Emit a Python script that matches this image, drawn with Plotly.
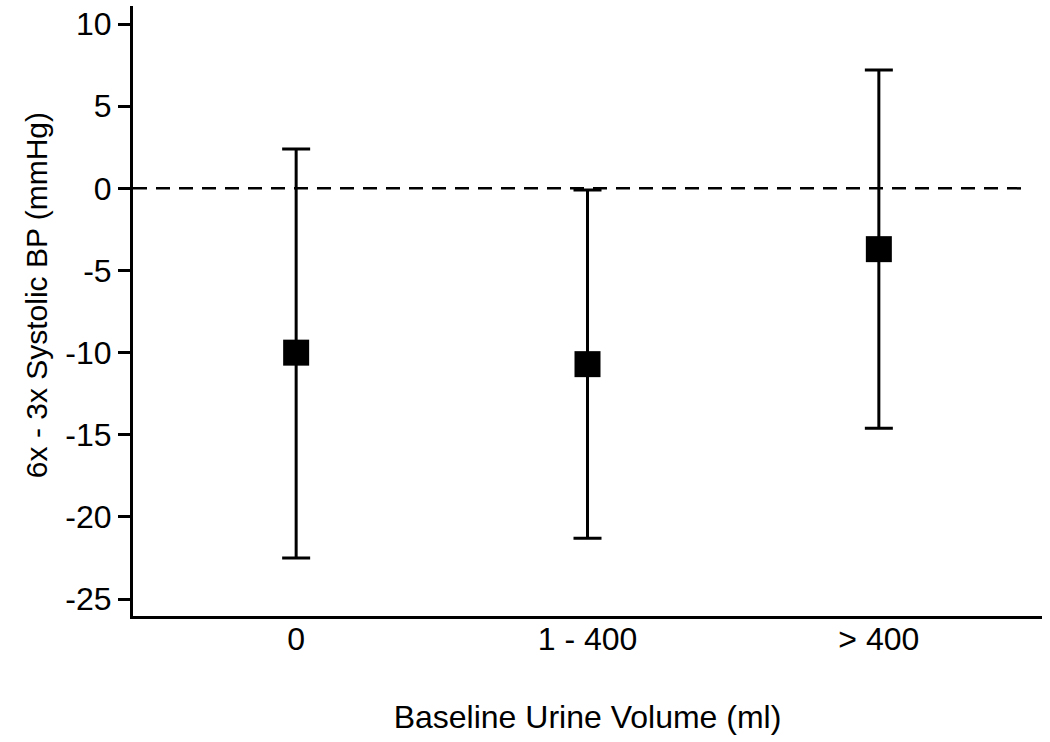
import plotly.graph_objects as go

categories = ["0", "1 - 400", "> 400"]
means = [-10.0, -10.7, -3.7]
upper = [2.4, -0.1, 7.2]
lower = [-22.5, -21.3, -14.6]
y_ticks = [10, 5, 0, -5, -10, -15, -20, -25]

xpos = list(range(len(categories)))
err_plus = [u - m for u, m in zip(upper, means)]
err_minus = [m - l for m, l in zip(means, lower)]

fig = go.Figure()
fig.add_trace(go.Scatter(
    x=xpos, y=means, mode="markers",
    marker=dict(symbol="square", size=26, color="black"),
    error_y=dict(type="data", symmetric=False, array=err_plus, arrayminus=err_minus,
                 color="black", thickness=3, width=14),
    showlegend=False,
))
fig.add_shape(type="line", xref="paper", yref="y", x0=0, x1=0.985, y0=0, y1=0,
              line=dict(color="black", width=2.5, dash="14px,9px"), layer="below")

font = "Liberation Sans, Arial, sans-serif"
fig.update_layout(
    width=1050, height=742,
    margin=dict(l=133, r=8, t=6, b=126),
    plot_bgcolor="white", paper_bgcolor="white",
    font=dict(family=font, color="black", size=32),
    xaxis=dict(
        range=[-0.56, 2.56], tickvals=xpos, ticktext=categories,
        showgrid=False, zeroline=False, showline=True, linecolor="black", linewidth=3,
        ticks="", tickfont=dict(size=32), automargin=False, ticklabelstandoff=-7,
        title=dict(text="Baseline Urine Volume (ml)", font=dict(size=32), standoff=50),
    ),
    yaxis=dict(
        range=[-26.03, 11.1], tickvals=y_ticks, ticktext=[str(v) for v in y_ticks],
        showgrid=False, zeroline=False, showline=True, linecolor="black", linewidth=3,
        ticks="outside", ticklen=12, tickwidth=3, tickcolor="black", tickfont=dict(size=32),
        automargin=False, ticklabeloverflow="allow",
    ),
    annotations=[dict(
        text="6x - 3x Systolic BP (mmHg)", textangle=-90, showarrow=False,
        xref="paper", yref="paper", x=0, y=0.526, xanchor="center", yanchor="middle",
        xshift=-97, font=dict(size=30),
    )],
)
fig.write_html("out.html", config={"displayModeBar": False},
               post_script="document.body.style.margin='0';")
